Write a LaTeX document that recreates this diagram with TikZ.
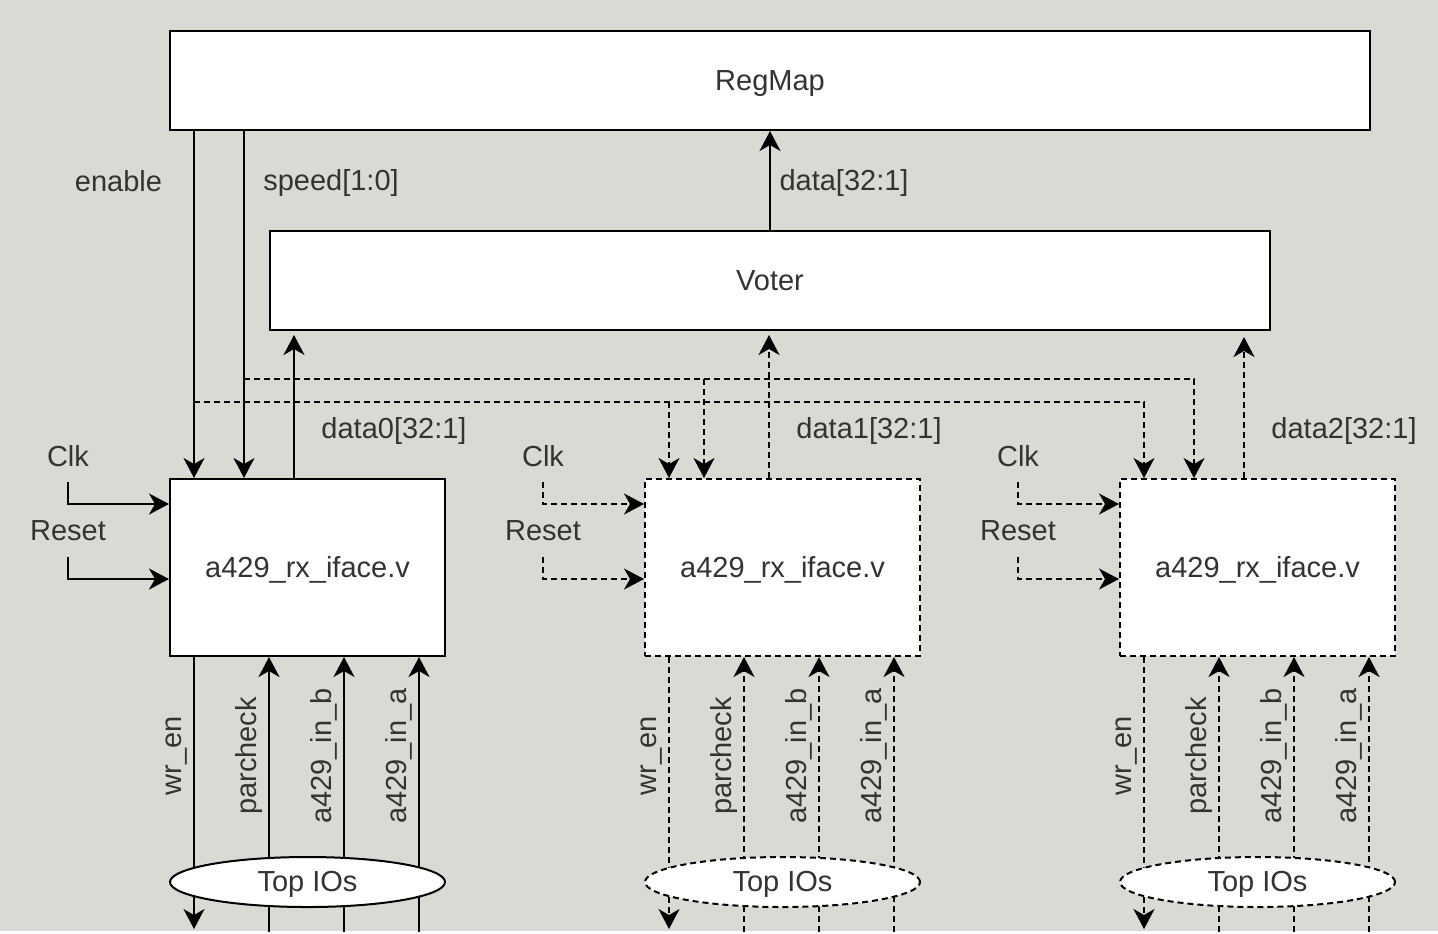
\documentclass[tikz,border=0pt]{standalone}
\usepackage{fontspec}
\setmainfont{Liberation Sans}
\usetikzlibrary{shapes.geometric,arrows.meta,positioning,calc}
\definecolor{bggray}{RGB}{218,218,213}
\definecolor{txtgray}{RGB}{51,51,51}

\begin{document}
\begin{tikzpicture}[
      x=0.5pt, y=-0.5pt,
      font=\fontsize{14.5}{17}\selectfont,
      basebox/.style={rectangle, draw=black, line width=1pt, fill=white,
                      text=txtgray, inner sep=0pt, text height=10.5pt,
                      text depth=1pt},
      regbox/.style={basebox, minimum width=600pt, minimum height=49.5pt},
      voterbox/.style={basebox, minimum width=500pt, minimum height=49.5pt},
      rxbox/.style={basebox, minimum width=137.5pt, minimum height=88.5pt},
      iobox/.style={ellipse, draw=black, line width=1pt, fill=white,
                    text=txtgray, minimum width=137.5pt, minimum height=25pt,
                    inner sep=0pt, text height=10.5pt, text depth=1pt},
      lbl/.style={text=txtgray, inner sep=0pt},
      siglbl/.style={lbl, inner ysep=7.5pt},
      vlbl/.style={lbl, rotate=90, anchor=base},
      dashline/.style={dash pattern=on 3pt off 2pt},
      arrow/.style={-{Stealth[length=10pt,width=10.5pt,inset=3pt]}, line width=1pt},
      darrow/.style={arrow, dashline},
    ]
      \fill[bggray] (0,0) rectangle (1438,931);
      % top level blocks
      \node[regbox] (regmap) at (770,80.5) {RegMap};
      \node[voterbox] (voter) at (770,280.5) {Voter};
      \node[rxbox] (rx0) at (307.5,567.5) {a429\_rx\_iface.v};
      \node[rxbox, dashline] (rx1) at (782.5,567.5) {a429\_rx\_iface.v};
      \node[rxbox, dashline] (rx2) at (1257.5,567.5) {a429\_rx\_iface.v};
      % control lines from the register map
      \coordinate (en0) at ($(rx0.north west)+(25,0)$);
      \coordinate (sp0) at ($(rx0.north west)+(75,0)$);
      \coordinate (en1) at ($(rx1.north west)+(25,0)$);
      \coordinate (sp1) at ($(rx1.north west)+(60,0)$);
      \coordinate (en2) at ($(rx2.north west)+(25,0)$);
      \coordinate (sp2) at ($(rx2.north west)+(75,0)$);
      \coordinate (enbus) at ($(en0)+(0,-76)$);
      \coordinate (spbus) at ($(sp0)+(0,-99)$);
      \draw[arrow] (regmap.south -| en0) -- (en0);
      \draw[arrow] (regmap.south -| sp0) -- (sp0);
      \node[lbl] (enlbl) at (118.5,181) {enable};
      \node[lbl] (splbl) at (331,183) {speed[1:0]};
      \draw[darrow] (enbus) -| (en2);
      \draw[darrow] (enbus -| en1) -- (en1);
      \draw[darrow] (spbus) -| (sp2);
      \draw[darrow] (spbus -| sp1) -- (sp1);
      % data paths
      \draw[arrow] (voter.north) -- (regmap.south);
      \node[lbl] (datalbl) at (844,183) {data[32:1]};
      \coordinate (d0) at ($(rx0.north west)+(125,0)$);
      \coordinate (d1) at ($(rx1.north west)+(125,0)$);
      \coordinate (d2) at ($(rx2.north west)+(125,0)$);
      \draw[arrow, shorten >=2pt] (d0) -- (voter.south -| d0);
      \draw[darrow, shorten >=2pt] (d1) -- (voter.south -| d1);
      \draw[darrow, shorten >=3pt] (d2) -- (voter.south -| d2);
      \node[lbl] (d0lbl) at (394,431) {data0[32:1]};
      \node[lbl] (d1lbl) at (869,431) {data1[32:1]};
      \node[lbl] (d2lbl) at (1344,431) {data2[32:1]};
      % clock and reset
      \node[siglbl] (clk0) at ($(rx0.north west)+(-101,-22)$) {Clk};
      \node[siglbl] (rst0) at ($(rx0.north west)+(-101,53)$) {Reset};
      \draw[arrow] (clk0.south) |- ($(rx0.north west)+(0,26)$);
      \draw[arrow] (rst0.south) |- ($(rx0.north west)+(0,101)$);
      \node[siglbl] (clk1) at ($(rx1.north west)+(-101,-22)$) {Clk};
      \node[siglbl] (rst1) at ($(rx1.north west)+(-101,53)$) {Reset};
      \draw[darrow] (clk1.south) |- ($(rx1.north west)+(0,26)$);
      \draw[darrow] (rst1.south) |- ($(rx1.north west)+(0,101)$);
      \node[siglbl] (clk2) at ($(rx2.north west)+(-101,-22)$) {Clk};
      \node[siglbl] (rst2) at ($(rx2.north west)+(-101,53)$) {Reset};
      \draw[darrow] (clk2.south) |- ($(rx2.north west)+(0,26)$);
      \draw[darrow] (rst2.south) |- ($(rx2.north west)+(0,101)$);
      % top IOs, block 0
      \coordinate (wr0) at ($(rx0.south west)+(25,272)$);
      \coordinate (pc0) at ($(rx0.south west)+(100,275)$);
      \coordinate (ib0) at ($(rx0.south west)+(175,275)$);
      \coordinate (ia0) at ($(rx0.south west)+(250,275)$);
      \draw[arrow] (rx0.south -| wr0) -- (wr0);
      \draw[arrow] (pc0) -- (rx0.south -| pc0);
      \draw[arrow] (ib0) -- (rx0.south -| ib0);
      \draw[arrow] (ia0) -- (rx0.south -| ia0);
      \node[iobox] (io0) at ($(rx0.south)+(0,225)$) {Top IOs};
      \node[vlbl] (wrl0) at ($(rx0.south west)+(12,99)$) {wr\_en};
      \node[vlbl] (pcl0) at ($(rx0.south west)+(87,99)$) {parcheck};
      \node[vlbl] (ibl0) at ($(rx0.south west)+(162,99)$) {a429\_in\_b};
      \node[vlbl] (ial0) at ($(rx0.south west)+(237,99)$) {a429\_in\_a};
      % top IOs, block 1
      \coordinate (wr1) at ($(rx1.south west)+(25,272)$);
      \coordinate (pc1) at ($(rx1.south west)+(100,275)$);
      \coordinate (ib1) at ($(rx1.south west)+(175,275)$);
      \coordinate (ia1) at ($(rx1.south west)+(250,275)$);
      \draw[darrow] (rx1.south -| wr1) -- (wr1);
      \draw[darrow] (pc1) -- (rx1.south -| pc1);
      \draw[darrow] (ib1) -- (rx1.south -| ib1);
      \draw[darrow] (ia1) -- (rx1.south -| ia1);
      \node[iobox, dashline] (io1) at ($(rx1.south)+(0,225)$) {Top IOs};
      \node[vlbl] (wrl1) at ($(rx1.south west)+(12,99)$) {wr\_en};
      \node[vlbl] (pcl1) at ($(rx1.south west)+(87,99)$) {parcheck};
      \node[vlbl] (ibl1) at ($(rx1.south west)+(162,99)$) {a429\_in\_b};
      \node[vlbl] (ial1) at ($(rx1.south west)+(237,99)$) {a429\_in\_a};
      % top IOs, block 2
      \coordinate (wr2) at ($(rx2.south west)+(25,272)$);
      \coordinate (pc2) at ($(rx2.south west)+(100,275)$);
      \coordinate (ib2) at ($(rx2.south west)+(175,275)$);
      \coordinate (ia2) at ($(rx2.south west)+(250,275)$);
      \draw[darrow] (rx2.south -| wr2) -- (wr2);
      \draw[darrow] (pc2) -- (rx2.south -| pc2);
      \draw[darrow] (ib2) -- (rx2.south -| ib2);
      \draw[darrow] (ia2) -- (rx2.south -| ia2);
      \node[iobox, dashline] (io2) at ($(rx2.south)+(0,225)$) {Top IOs};
      \node[vlbl] (wrl2) at ($(rx2.south west)+(12,99)$) {wr\_en};
      \node[vlbl] (pcl2) at ($(rx2.south west)+(87,99)$) {parcheck};
      \node[vlbl] (ibl2) at ($(rx2.south west)+(162,99)$) {a429\_in\_b};
      \node[vlbl] (ial2) at ($(rx2.south west)+(237,99)$) {a429\_in\_a};
    \end{tikzpicture}
\end{document}
